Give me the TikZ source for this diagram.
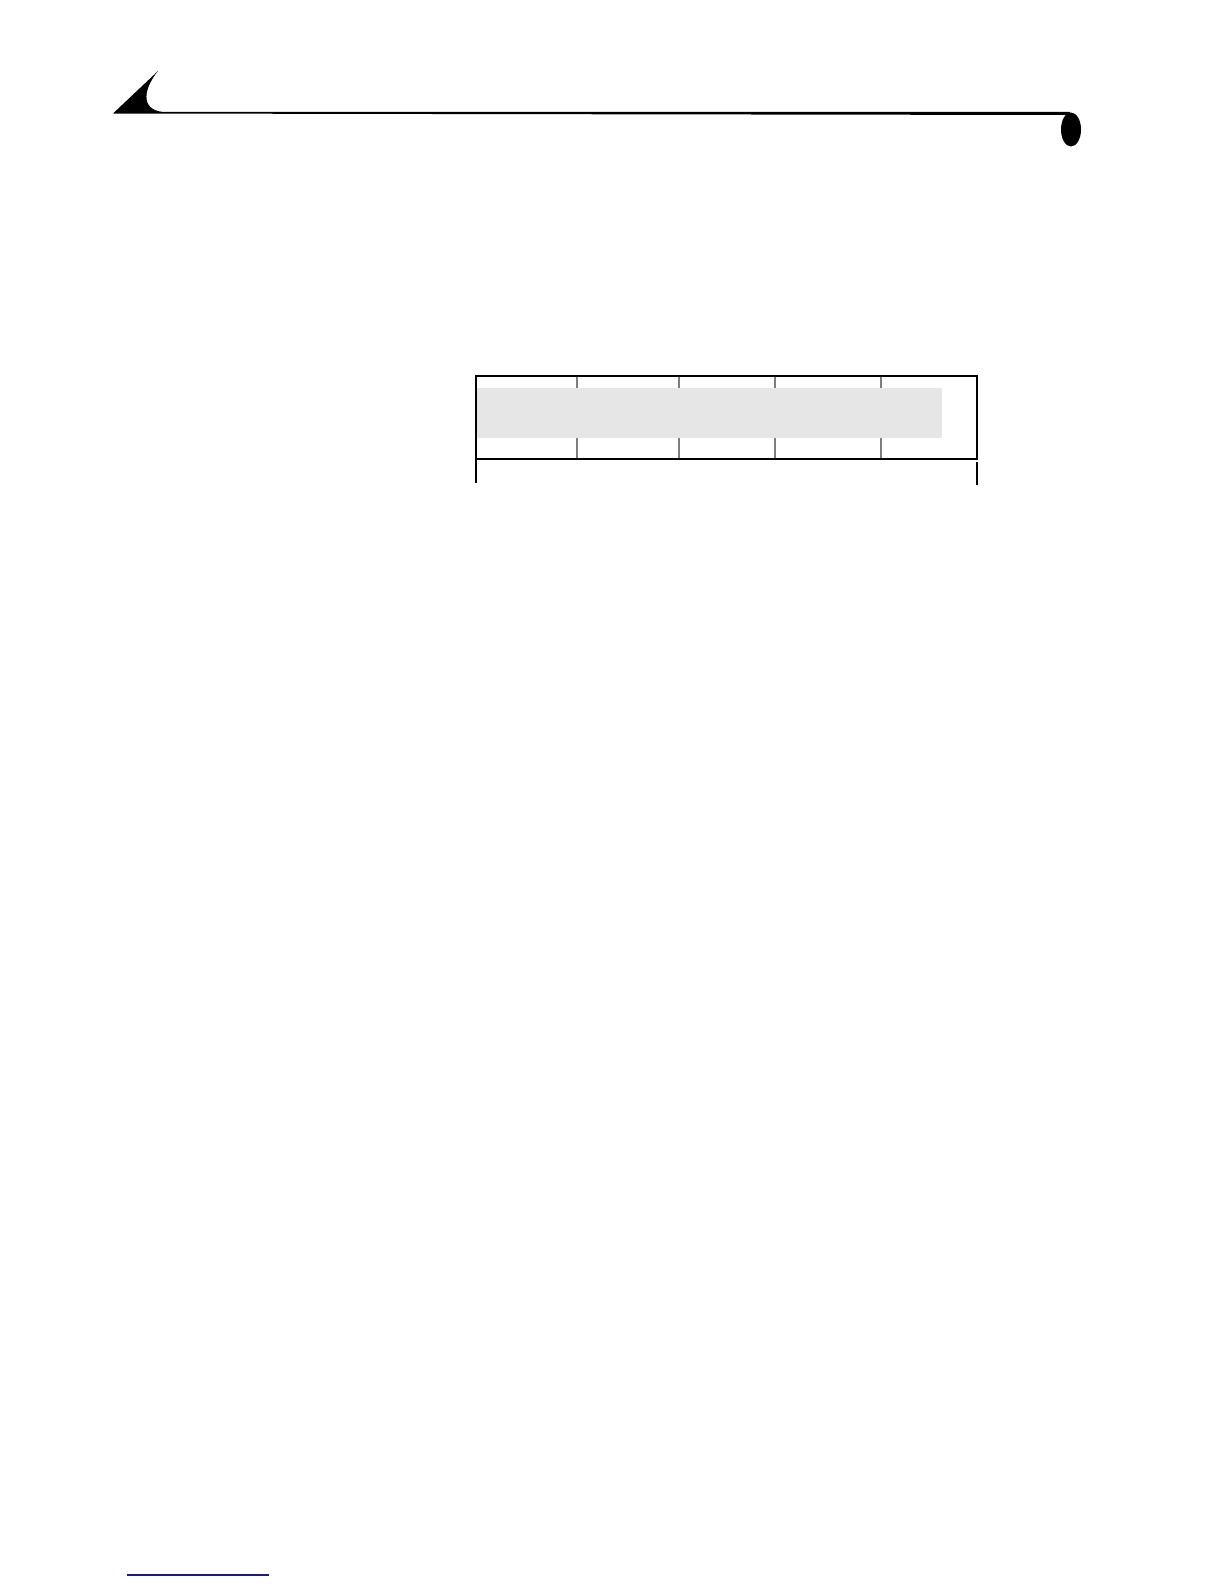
\documentclass[tikz,border=0pt]{standalone}
\usepackage{tikz}
\definecolor{barfill}{RGB}{230,230,230}
\definecolor{tickgray}{RGB}{125,125,125}
\definecolor{linkblue}{RGB}{25,25,140}
\tikzset{
  frameline/.style={line width=0.75pt, black},
  divline/.style={line width=0.75pt, tickgray},
}

\begin{document}
\begin{tikzpicture}[x=0.5pt, y=-0.5pt]
      % Page
      \useasboundingbox[fill=white] (0,0) rectangle (1224,1584);
      % Header rule
      \fill (113,113.5) -- (158,71) .. controls (141,92) and (142,112) .. (166,112) -- (1070,112)
        -- (1070,115) -- cycle;
      \fill (1071,129.5) ellipse [x radius=10, y radius=17];
      % Table
      \coordinate (tl) at (476,376);
      \coordinate (br) at (977,459);
      \foreach \x in {577,679,775,881}
        \draw[divline] (\x,376) -- (\x,459);
      \fill[barfill] (476,388) rectangle (942,438);
      \draw[frameline] (tl) rectangle (br);
      \draw[frameline] (tl |- br) -- ++(0,24);
      \draw[frameline] (br) ++(0,3) -- ++(0,23);
      % Footer link
      \draw[linkblue, line width=0.6pt] (127,1575) -- (269,1575);
    \end{tikzpicture}
\end{document}
